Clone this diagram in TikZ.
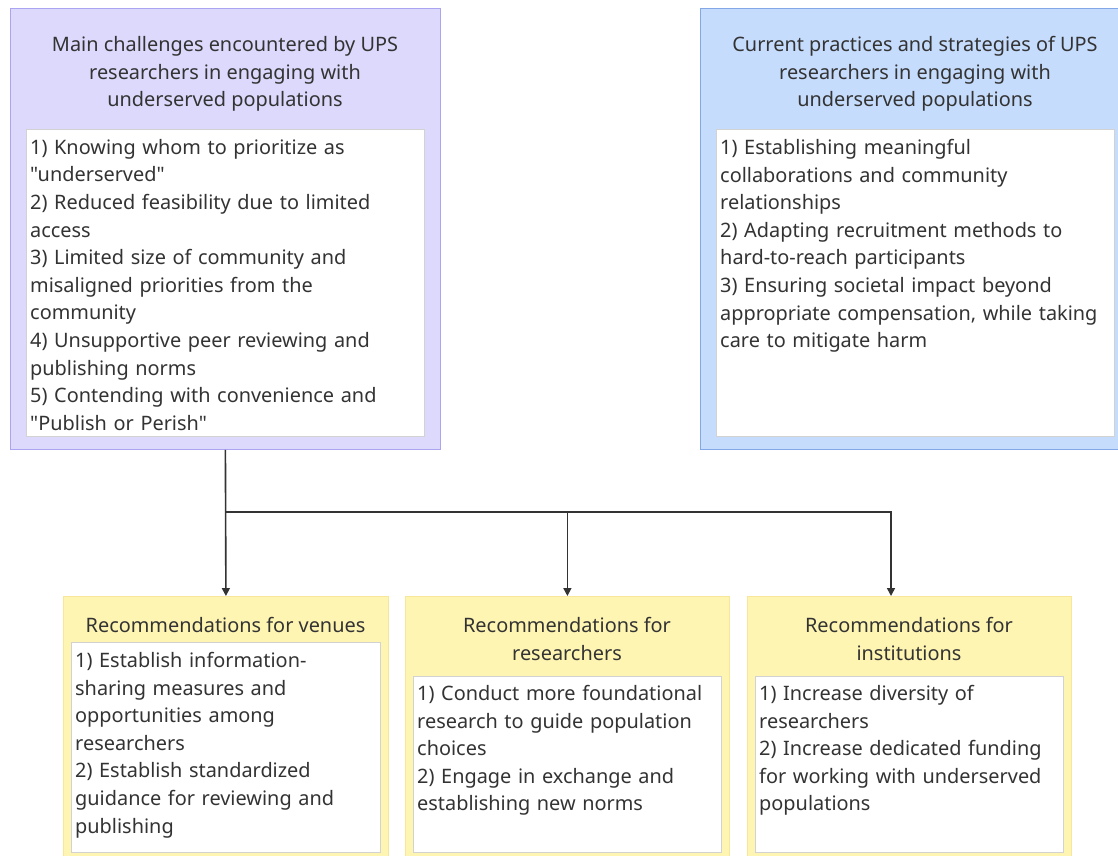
\documentclass[tikz,border=0pt]{standalone}
\usepackage{fontspec}
\setmainfont{Noto Sans}[Ligatures=TeXOff]
\usetikzlibrary{arrows.meta}
\definecolor{ink}{HTML}{333333}
\definecolor{lavfill}{HTML}{DCD9FC}
\definecolor{lavline}{HTML}{ABA5F1}
\definecolor{bluefill}{HTML}{C6DCFC}
\definecolor{blueline}{HTML}{84A7E8}
\definecolor{yelfill}{HTML}{FFF5B3}
\definecolor{yelline}{HTML}{F8E69A}
\definecolor{boxline}{HTML}{D2D2D2}
\begin{document}
\begin{tikzpicture}[x=1pt,y=-1pt,
  every node/.style={inner sep=0pt,text=ink,font=\fontsize{19.9}{27.6}\selectfont},
  group/.style={draw,line width=0.8pt,anchor=north west,minimum width=#1},
  panel/.style={draw=boxline,fill=white,line width=0.8pt,anchor=north west,minimum width=#1},
  head/.style={align=center},
  items/.style={anchor=north west,align=left,text width=#1},
  link/.style={draw=ink,line width=1.6pt,-{Triangle[length=8pt,width=8pt]}}]
\useasboundingbox (0,0) rectangle (1118,855);
\node [group=430pt,minimum height=441pt,fill=lavfill,draw=lavline] (chal) at (10,8) {};
\node [group=418pt,minimum height=441pt,fill=bluefill,draw=blueline] (prac) at (700,8) {};
\node [group=325pt,minimum height=262pt,fill=yelfill,draw=yelline] (venues) at (63,596) {};
\node [group=324pt,minimum height=262pt,fill=yelfill,draw=yelline] (resr) at (405,596) {};
\node [group=324pt,minimum height=262pt,fill=yelfill,draw=yelline] (inst) at (747,596) {};
\node [head] (chalhead) at (225,74) {Main challenges encountered by UPS\\researchers in engaging with\\underserved populations};
\node [head] (prachead) at (915,74) {Current practices and strategies of UPS\\researchers in engaging with\\underserved populations};
\node [head] (venueshead) at (225.5,625) {Recommendations for venues};
\node [head] (resrhead) at (567,639) {Recommendations for\\researchers};
\node [head] (insthead) at (909,639) {Recommendations for\\institutions};
\node [panel=398pt,minimum height=307pt] (challist) at (26,129) {};
\node [panel=398pt,minimum height=307pt] (praclist) at (716,129) {};
\node [panel=309pt,minimum height=210pt] (venueslist) at (71,642) {};
\node [panel=308pt,minimum height=176pt] (resrlist) at (413,676) {};
\node [panel=308pt,minimum height=176pt] (instlist) at (755,676) {};
\node [items=395pt] (chaltext) at (30,139) {1) Knowing whom to prioritize as\\"underserved"\\2) Reduced feasibility due to limited\\access\\3) Limited size of community and\\misaligned priorities from the\\community\\4) Unsupportive peer reviewing and\\publishing norms\\5) Contending with convenience and\\"Publish or Perish"};
\node [items=395pt] (practext) at (720,139) {1) Establishing meaningful\\collaborations and community\\relationships\\2) Adapting recruitment methods to\\hard-to-reach participants\\3) Ensuring societal impact beyond\\appropriate compensation, while taking\\care to mitigate harm};
\node [items=305pt] (venuestext) at (75,652) {1) Establish information-\\sharing measures and\\opportunities among\\researchers\\2) Establish standardized\\guidance for reviewing and\\publishing};
\node [items=305pt] (resrtext) at (417,685) {1) Conduct more foundational\\research to guide population\\choices\\2) Engage in exchange and\\establishing new norms};
\node [items=305pt] (insttext) at (759,685) {1) Increase diversity of\\researchers\\2) Increase dedicated funding\\for working with underserved\\populations};
\coordinate (split) at (225,512);
\coordinate (insttop) at (891,596);
\draw [link] (chal.south) -- (venues.north);
\draw [link] (split) -| (resr.north);
\draw [link] (split) -| (insttop);
\end{tikzpicture}
\end{document}
